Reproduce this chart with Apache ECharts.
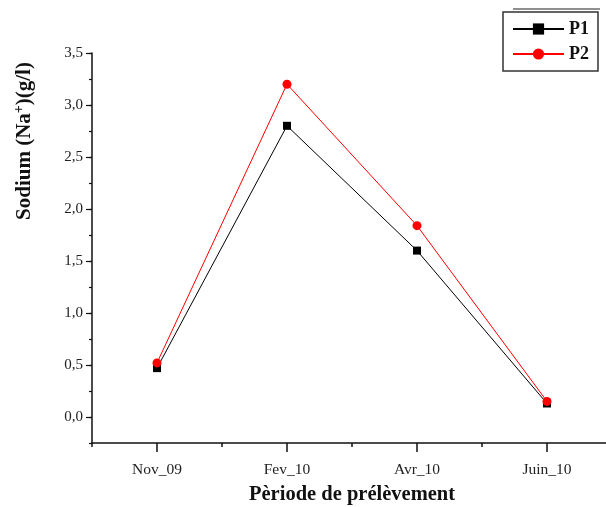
<!DOCTYPE html>
<html>
<head>
<meta charset="utf-8">
<script src="https://cdn.jsdelivr.net/npm/echarts@6/dist/echarts.min.js"></script>
<style>
html, body { margin: 0; padding: 0; background: #fff; }
#chart { width: 606px; height: 507px; }
</style>
</head>
<body>
<div id="chart"></div>
<script>
// données
var periodes = ['Nov_09', 'Fev_10', 'Avr_10', 'Juin_10'];
var p1 = [0.47, 2.80, 1.60, 0.13];
var p2 = [0.52, 3.20, 1.84, 0.15];

var serif = 'Liberation Serif';
var chart = echarts.init(document.getElementById('chart'));

function virgule(v) {
	if (v < 0) return '';
	return v.toFixed(1).replace('.', ',');
}

var option = {
	backgroundColor: '#fff',
	animation: false,
	grid: [{
		left: 92,
		top: 53,
		right: -6,
		bottom: 64,
		outerBoundsMode: 'none'
	}, {
		// grille seulement pour les graduations 0,0 .. 3,5
		left: 92,
		top: 53,
		right: -6,
		bottom: 90,
		outerBoundsMode: 'none'
	}],
	legend: {
		orient: 'vertical',
		left: 503,
		top: 12,
		padding: [8, 9, 8, 9],
		itemGap: 7,
		itemWidth: 51,
		itemHeight: 14,
		borderColor: '#333',
		borderWidth: 1.5,
		data: ['P1', 'P2'],
		textStyle: {
			fontFamily: serif,
			fontWeight: 'bold',
			fontSize: 18,
			color: '#111'
		}
	},
	graphic: [{
		type: 'line',
		shape: { x1: 513, y1: 9, x2: 600, y2: 9 },
		style: { stroke: '#222', lineWidth: 1.2 }
	}, {
		type: 'text',
		x: 25,
		y: 141,
		rotation: Math.PI / 2,
		style: {
			text: 'Sodium (Na{sup|+})(g/l)',
			fontFamily: serif,
			fontWeight: 'bold',
			fontSize: 21,
			fill: '#111',
			align: 'center',
			verticalAlign: 'middle',
			rich: {
				sup: {
					fontFamily: serif,
					fontWeight: 'bold',
					fontSize: 14,
					fill: '#111',
					padding: [0, 0, 12, 0]
				}
			}
		}
	}],
	xAxis: [{
		// petites graduations entre les mois
		type: 'category',
		gridIndex: 0,
		data: periodes,
		position: 'bottom',
		boundaryGap: true,
		axisLine: { onZero: false, lineStyle: { color: '#111', width: 1.5 } },
		axisTick: { show: true, length: 4, lineStyle: { color: '#111', width: 1.5 } },
		axisLabel: { show: false }
	}, {
		type: 'category',
		gridIndex: 0,
		data: periodes,
		position: 'bottom',
		boundaryGap: true,
		name: 'Pèriode de prélèvement',
		nameLocation: 'middle',
		nameGap: 41,
		nameTextStyle: {
			fontFamily: serif,
			fontWeight: 'bold',
			fontSize: 20.5,
			color: '#111'
		},
		axisLine: { show: false, onZero: false },
		axisTick: { show: true, alignWithLabel: true, length: 9, lineStyle: { color: '#111', width: 1.5 } },
		axisLabel: {
			margin: 19,
			fontFamily: serif,
			fontSize: 15.5,
			color: '#222'
		}
	}, {
		type: 'value',
		gridIndex: 1,
		show: false
	}],
	yAxis: [{
		type: 'value',
		gridIndex: 0,
		position: 'left',
		min: -0.25,
		max: 3.5,
		interval: 0.25,
		splitLine: { show: false },
		axisLine: { show: true, onZero: false, lineStyle: { color: '#111', width: 1.5 } },
		axisTick: { show: true, length: 3, lineStyle: { color: '#111', width: 1.2 } },
		axisLabel: { show: false }
	}, {
		type: 'value',
		gridIndex: 1,
		position: 'left',
		min: 0,
		max: 3.5,
		interval: 0.5,
		splitLine: { show: false },
		axisLine: { show: false, onZero: false },
		axisTick: { show: true, length: 6, lineStyle: { color: '#111', width: 1.2 } },
		axisLabel: {
			margin: 9,
			fontFamily: serif,
			fontSize: 15,
			color: '#222',
			formatter: virgule
		}
	}],
	series: [{
		name: 'P1',
		type: 'line',
		xAxisIndex: 0,
		yAxisIndex: 0,
		data: p1,
		symbol: 'rect',
		symbolSize: 8,
		color: '#000',
		lineStyle: { color: '#000', width: 1 },
		itemStyle: { color: '#000' },
		z: 3
	}, {
		name: 'P2',
		type: 'line',
		xAxisIndex: 0,
		yAxisIndex: 0,
		data: p2,
		symbol: 'circle',
		symbolSize: 9,
		color: '#ff0000',
		lineStyle: { color: '#ff0000', width: 1 },
		itemStyle: { color: '#ff0000' },
		z: 4
	}]
};

chart.setOption(option);
</script>
</body>
</html>
